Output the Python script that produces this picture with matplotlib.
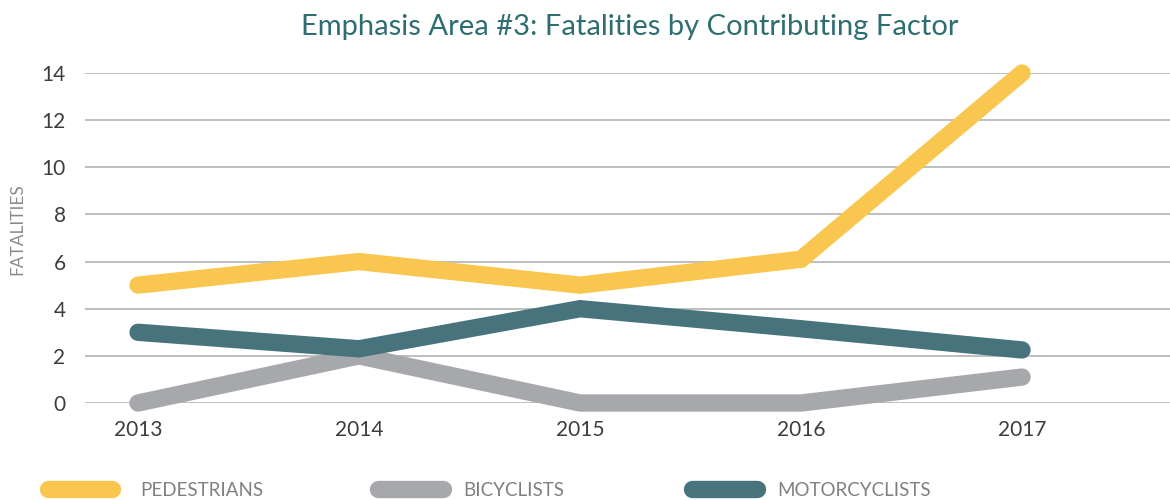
import matplotlib
matplotlib.use("Agg")
import matplotlib.pyplot as plt
from matplotlib.lines import Line2D

years = [2013, 2014, 2015, 2016, 2017]
pedestrians = [5, 6, 5, 6.1, 14]
bicyclists = [0, 2, 0, 0, 1.1]
motorcyclists = [3, 2.3, 4, 3.15, 2.25]
series_names = ["PEDESTRIANS", "BICYCLISTS", "MOTORCYCLISTS"]
colors = ["#F9C74F", "#A7A8AB", "#47737D"]
yticks = [0, 2, 4, 6, 8, 10, 12, 14]

plt.rcParams['font.family'] = ['Lato', 'DejaVu Sans']

fig = plt.figure(figsize=(11.7, 5.0), dpi=100)
ax = fig.add_axes([85/1170, 97/500, 1 - 85/1170, 330/500])

lw = 12.5
for vals, c in zip([bicyclists, motorcyclists, pedestrians], [colors[1], colors[2], colors[0]]):
    ax.plot(years, vals, color=c, linewidth=lw, solid_capstyle='round',
            solid_joinstyle='miter', clip_on=False, zorder=3)

ax.set_xlim(2012.76, 2012.76 + 1085/221)
ax.set_ylim(0, 14)
ax.set_yticks(yticks)
ax.set_xticks(years)
ax.set_xticklabels([str(y) for y in years])
ax.grid(axis='y', color='#b3b3b3', linewidth=1.2, zorder=0)
ax.grid(axis='x', visible=False)
for s in ax.spines.values():
    s.set_visible(False)
ax.tick_params(axis='both', length=0, labelsize=15, labelcolor='#3d3d3d')
ax.tick_params(axis='y', pad=14)
ax.tick_params(axis='x', pad=12)
ax.set_axisbelow(True)

fig.text(17/1170, 1 - 229/500, "FATALITIES", rotation=90, ha='center', va='center',
         fontsize=12.5, color='#8a8a8a')

fig.text(630/1170, 1 - 27/500, "Emphasis Area #3: Fatalities by Contributing Factor",
         ha='center', va='center', fontsize=21, color='#2E6E72')

# legend
leg_x = [(48, 112, 140), (378, 443, 463), (692, 757, 777)]
for (x0, x1, xt), name, c in zip(leg_x, series_names, colors):
    fig.add_artist(Line2D([x0/1170, x1/1170], [1 - 489/500, 1 - 489/500], color=c,
                          linewidth=12.5, solid_capstyle='round', transform=fig.transFigure))
    fig.text(xt/1170, 1 - 490/500, name, ha='left', va='center', fontsize=13.5, color='#808080')

fig.savefig("out.png", dpi=100)
